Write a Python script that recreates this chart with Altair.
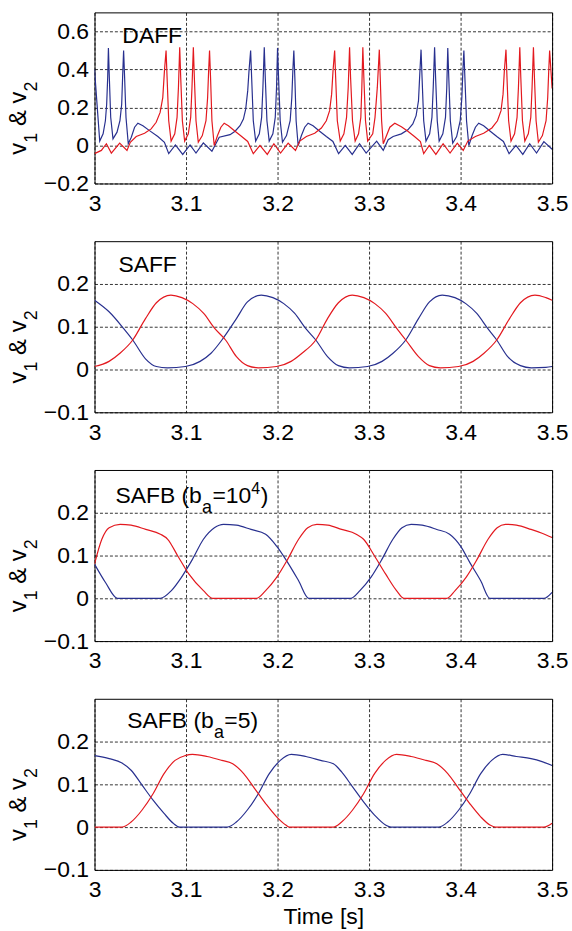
import altair as alt
import pandas as pd

FONT = "Liberation Sans"
BLUE = "#28308f"
RED = "#e3191f"

X_TICKS = [3.0, 3.1, 3.2, 3.3, 3.4, 3.5]
Y_TICKS_TOP = [-0.2, 0.0, 0.2, 0.4, 0.6]
Y_TICKS = [-0.1, 0.0, 0.1, 0.2]

# ---- Panel 1: DAFF (time [s], value) ----
daff_v1 = [
    (3.000, 0.40), (3.0057, 0.023), (3.0094, 0.061), (3.0119, 0.130), (3.0133, 0.217), (3.0144, 0.357),
    (3.0152, 0.513), (3.0162, 0.357), (3.0177, 0.148), (3.0202, 0.035), (3.0246, 0.070), (3.0278, 0.130),
    (3.0297, 0.217), (3.0307, 0.357), (3.0318, 0.499), (3.0329, 0.357), (3.0344, 0.148), (3.0369, 0.009),
    (3.0402, 0.043), (3.0438, 0.096), (3.0474, 0.117), (3.0529, 0.104), (3.0601, 0.078), (3.0692, 0.047),
    (3.0764, 0.017), (3.0811, -0.043), (3.0884, 0.003), (3.0964, -0.047), (3.1044, 0.003), (3.1109, -0.040),
    (3.1189, 0.014), (3.1283, -0.030), (3.1363, 0.043), (3.1481, 0.057), (3.1536, 0.075), (3.1590, 0.104),
    (3.1627, 0.139), (3.1652, 0.191), (3.1674, 0.287), (3.1688, 0.391), (3.1706, 0.499), (3.1717, 0.357),
    (3.1735, 0.130), (3.1761, 0.023), (3.1801, 0.061), (3.1826, 0.148), (3.1840, 0.304), (3.1855, 0.517),
    (3.1866, 0.357), (3.1884, 0.130), (3.1909, 0.023), (3.1949, 0.061), (3.1975, 0.148), (3.1989, 0.304),
    (3.2000, 0.513), (3.2011, 0.357), (3.2029, 0.130), (3.2054, 0.017), (3.2098, 0.052), (3.2138, 0.130),
    (3.2156, 0.252), (3.2167, 0.391), (3.2178, 0.499), (3.2189, 0.357), (3.2203, 0.130), (3.2225, 0.000),
    (3.2261, 0.052), (3.2297, 0.096), (3.2334, 0.117), (3.2388, 0.104), (3.2460, 0.075), (3.2533, 0.047),
    (3.2605, 0.021), (3.2667, -0.043), (3.2740, 0.000), (3.2816, -0.047), (3.2896, 0.009), (3.2968, -0.040),
    (3.3083, 0.023), (3.3155, -0.026), (3.3209, 0.030), (3.3263, 0.047), (3.3353, 0.061), (3.3424, 0.082),
    (3.3478, 0.113), (3.3514, 0.157), (3.3540, 0.235), (3.3554, 0.374), (3.3568, 0.504), (3.3579, 0.357),
    (3.3597, 0.130), (3.3622, 0.023), (3.3662, 0.061), (3.3687, 0.148), (3.3701, 0.304), (3.3716, 0.517),
    (3.3727, 0.357), (3.3745, 0.130), (3.3766, 0.023), (3.3806, 0.061), (3.3835, 0.148), (3.3849, 0.304),
    (3.3860, 0.513), (3.3871, 0.357), (3.3888, 0.130), (3.3914, 0.012), (3.3957, 0.047), (3.3996, 0.130),
    (3.4014, 0.252), (3.4025, 0.391), (3.4036, 0.499), (3.4047, 0.357), (3.4065, 0.130), (3.4090, 0.000),
    (3.4126, 0.052), (3.4162, 0.096), (3.4198, 0.117), (3.4252, 0.104), (3.4324, 0.075), (3.4396, 0.047),
    (3.4468, 0.021), (3.4530, -0.043), (3.4605, 0.000), (3.4680, -0.047), (3.4755, 0.009), (3.4830, -0.040),
    (3.4910, 0.020), (3.5000, -0.020),
]
daff_v2 = [
    (3.000, -0.043), (3.0075, -0.026), (3.0130, 0.009), (3.0184, -0.040), (3.0275, 0.012), (3.0355, -0.026),
    (3.0391, 0.017), (3.0456, 0.047), (3.0547, 0.064), (3.0619, 0.087), (3.0674, 0.122), (3.0717, 0.174),
    (3.0746, 0.252), (3.0764, 0.391), (3.0782, 0.499), (3.0793, 0.357), (3.0811, 0.130), (3.0837, 0.023),
    (3.0877, 0.061), (3.0902, 0.148), (3.0917, 0.304), (3.0931, 0.517), (3.0942, 0.357), (3.0960, 0.130),
    (3.0985, 0.023), (3.1025, 0.061), (3.1051, 0.148), (3.1065, 0.304), (3.1080, 0.517), (3.1091, 0.357),
    (3.1109, 0.130), (3.1134, 0.017), (3.1178, 0.052), (3.1218, 0.130), (3.1236, 0.252), (3.1247, 0.391),
    (3.1257, 0.499), (3.1268, 0.357), (3.1283, 0.130), (3.1308, 0.000), (3.1344, 0.052), (3.1381, 0.096),
    (3.1417, 0.117), (3.1463, 0.104), (3.1536, 0.075), (3.1608, 0.047), (3.1674, 0.021), (3.1735, -0.043),
    (3.1808, 0.000), (3.1888, -0.047), (3.1960, 0.009), (3.2033, -0.040), (3.2116, 0.012), (3.2196, -0.026),
    (3.2243, 0.023), (3.2315, 0.047), (3.2406, 0.064), (3.2479, 0.092), (3.2533, 0.130), (3.2569, 0.183),
    (3.2591, 0.270), (3.2606, 0.391), (3.2624, 0.499), (3.2635, 0.357), (3.2653, 0.130), (3.2685, 0.023),
    (3.2725, 0.061), (3.2754, 0.148), (3.2772, 0.304), (3.2787, 0.517), (3.2798, 0.357), (3.2819, 0.130),
    (3.2848, 0.023), (3.2885, 0.061), (3.2910, 0.148), (3.2921, 0.304), (3.2932, 0.517), (3.2943, 0.357),
    (3.2961, 0.130), (3.2985, 0.023), (3.3040, 0.061), (3.3065, 0.148), (3.3090, 0.304), (3.3112, 0.504),
    (3.3122, 0.357), (3.3137, 0.130), (3.3155, 0.009), (3.3191, 0.052), (3.3227, 0.096), (3.3281, 0.117),
    (3.3353, 0.099), (3.3424, 0.075), (3.3496, 0.047), (3.3561, 0.021), (3.3597, -0.043), (3.3658, 0.000),
    (3.3730, -0.047), (3.3809, 0.009), (3.3885, -0.040), (3.3964, 0.012), (3.4029, -0.026), (3.4079, 0.023),
    (3.4162, 0.047), (3.4252, 0.064), (3.4342, 0.092), (3.4403, 0.130), (3.4442, 0.183), (3.4464, 0.270),
    (3.4478, 0.391), (3.4496, 0.504), (3.4507, 0.357), (3.4525, 0.130), (3.4551, 0.023), (3.4590, 0.061),
    (3.4617, 0.148), (3.4632, 0.304), (3.4647, 0.517), (3.4658, 0.357), (3.4676, 0.130), (3.4702, 0.023),
    (3.4740, 0.061), (3.4767, 0.148), (3.4781, 0.304), (3.4796, 0.517), (3.4807, 0.357), (3.4825, 0.130),
    (3.4850, 0.017), (3.4894, 0.052), (3.4934, 0.130), (3.4952, 0.252), (3.4963, 0.391), (3.4973, 0.499),
    (3.5000, 0.300),
]

# ---- Panel 2: SAFF ----
saff_v1 = [
    (3.000, 0.162), (3.0159, 0.135), (3.0318, 0.096), (3.0418, 0.069), (3.0557, 0.025), (3.0676, 0.007),
    (3.0796, 0.004), (3.0994, 0.007), (3.1154, 0.019), (3.1273, 0.038), (3.1392, 0.069), (3.1551, 0.119),
    (3.1671, 0.158), (3.1822, 0.174), (3.1949, 0.168), (3.2068, 0.154), (3.2188, 0.131), (3.2307, 0.096),
    (3.2418, 0.069), (3.2546, 0.030), (3.2665, 0.009), (3.2784, 0.004), (3.2983, 0.007), (3.3142, 0.019),
    (3.3262, 0.038), (3.3401, 0.069), (3.3540, 0.119), (3.3660, 0.158), (3.3799, 0.174), (3.3938, 0.168),
    (3.4057, 0.154), (3.4177, 0.131), (3.4296, 0.096), (3.4395, 0.069), (3.4515, 0.030), (3.4654, 0.009),
    (3.4773, 0.004), (3.4932, 0.005), (3.5000, 0.007),
]
saff_v2 = [
    (3.000, 0.007), (3.0159, 0.019), (3.0278, 0.038), (3.0418, 0.069), (3.0557, 0.119), (3.0676, 0.156),
    (3.0835, 0.174), (3.0955, 0.168), (3.1074, 0.154), (3.1193, 0.131), (3.1313, 0.096), (3.1432, 0.069),
    (3.1551, 0.030), (3.1671, 0.009), (3.1790, 0.004), (3.1989, 0.007), (3.2148, 0.019), (3.2267, 0.038),
    (3.2418, 0.069), (3.2546, 0.119), (3.2665, 0.156), (3.2816, 0.174), (3.2943, 0.168), (3.3063, 0.154),
    (3.3182, 0.131), (3.3302, 0.096), (3.3401, 0.069), (3.3540, 0.030), (3.3660, 0.009), (3.3779, 0.004),
    (3.3978, 0.007), (3.4137, 0.019), (3.4256, 0.038), (3.4395, 0.069), (3.4535, 0.119), (3.4654, 0.156),
    (3.4813, 0.174), (3.4932, 0.168), (3.5000, 0.162),
]

# ---- Panel 3: SAFB (b_a = 10^4) ----
safb4_v1 = [
    (3.000, 0.080), (3.012, 0.037), (3.025, 0.000), (3.072, 0.000), (3.084, 0.018), (3.095, 0.049),
    (3.107, 0.091), (3.119, 0.138), (3.131, 0.165), (3.141, 0.173), (3.155, 0.171), (3.171, 0.161),
    (3.187, 0.150), (3.199, 0.122), (3.211, 0.084), (3.223, 0.041), (3.234, 0.000), (3.280, 0.000),
    (3.290, 0.018), (3.302, 0.049), (3.314, 0.091), (3.326, 0.138), (3.336, 0.165), (3.346, 0.173),
    (3.358, 0.171), (3.374, 0.161), (3.388, 0.150), (3.400, 0.122), (3.410, 0.084), (3.422, 0.041),
    (3.432, 0.000), (3.491, 0.000), (3.500, 0.014),
]
safb4_v2 = [
    (3.000, 0.080), (3.008, 0.138), (3.016, 0.165), (3.028, 0.173), (3.040, 0.171), (3.056, 0.161),
    (3.072, 0.150), (3.080, 0.138), (3.091, 0.099), (3.103, 0.057), (3.119, 0.018), (3.129, 0.000),
    (3.177, 0.000), (3.187, 0.018), (3.199, 0.049), (3.211, 0.091), (3.223, 0.138), (3.233, 0.165),
    (3.243, 0.173), (3.255, 0.171), (3.270, 0.161), (3.286, 0.150), (3.294, 0.138), (3.306, 0.099),
    (3.318, 0.057), (3.330, 0.018), (3.338, 0.000), (3.385, 0.000), (3.394, 0.018), (3.406, 0.049),
    (3.418, 0.091), (3.430, 0.138), (3.440, 0.165), (3.449, 0.173), (3.461, 0.171), (3.477, 0.161),
    (3.489, 0.152), (3.500, 0.142),
]

# ---- Panel 4: SAFB (b_a = 5) ----
safb5_v1 = [
    (3.000, 0.167), (3.016, 0.160), (3.030, 0.150), (3.040, 0.133), (3.052, 0.098), (3.064, 0.063),
    (3.076, 0.032), (3.086, 0.009), (3.093, 0.000), (3.145, 0.000), (3.155, 0.012), (3.167, 0.040),
    (3.179, 0.078), (3.191, 0.125), (3.203, 0.156), (3.215, 0.170), (3.231, 0.165), (3.247, 0.156),
    (3.261, 0.148), (3.270, 0.129), (3.282, 0.094), (3.294, 0.059), (3.306, 0.028), (3.318, 0.005),
    (3.324, 0.000), (3.376, 0.000), (3.386, 0.012), (3.398, 0.040), (3.410, 0.078), (3.422, 0.125),
    (3.434, 0.156), (3.446, 0.170), (3.461, 0.165), (3.477, 0.160), (3.489, 0.153), (3.500, 0.144),
]
safb5_v2 = [
    (3.000, 0.000), (3.030, 0.000), (3.040, 0.012), (3.052, 0.040), (3.064, 0.078), (3.076, 0.125),
    (3.088, 0.156), (3.099, 0.167), (3.107, 0.170), (3.123, 0.165), (3.139, 0.156), (3.151, 0.148),
    (3.163, 0.125), (3.175, 0.090), (3.187, 0.055), (3.199, 0.024), (3.209, 0.005), (3.213, 0.000),
    (3.261, 0.000), (3.270, 0.012), (3.282, 0.040), (3.294, 0.078), (3.306, 0.125), (3.318, 0.156),
    (3.330, 0.170), (3.346, 0.165), (3.362, 0.156), (3.374, 0.148), (3.386, 0.125), (3.398, 0.090),
    (3.410, 0.055), (3.422, 0.024), (3.432, 0.005), (3.438, 0.000), (3.491, 0.000), (3.500, 0.009),
]

W, H = 460, 172
ONE = pd.DataFrame({"k": [0]})


def frame(pairs):
    return pd.DataFrame(pairs, columns=["t", "v"])


def txt(s, x, y, size, angle=0):
    return alt.Chart(ONE).mark_text(
        text=s, font=FONT, fontSize=size, align="left", baseline="alphabetic",
        angle=angle, color="black"
    ).encode(x=alt.value(x), y=alt.value(y))


def ytitle():
    xb, xs, y0 = -69, -58, 143
    return [
        txt("v", xb, y0, 24, 270),
        txt("1", xs, y0 - 12, 18, 270),
        txt("& v", xb, y0 - 28.7, 24, 270),
        txt("2", xs, y0 - 63.4, 18, 270),
    ]


def panel(b, r, ydom, yticks, labels, last, interp):
    xenc = alt.X("t:Q", scale=alt.Scale(domain=[3, 3.5], nice=False, zero=False),
                 axis=alt.Axis(values=X_TICKS, format="~g", title="Time [s]" if last else None))
    yenc = alt.Y("v:Q", scale=alt.Scale(domain=ydom, nice=False, zero=False),
                 axis=alt.Axis(values=yticks, format="~g", title=None))
    lb = alt.Chart(frame(b)).mark_line(color=BLUE, strokeWidth=1.2, clip=True,
                                       interpolate=interp).encode(x=xenc, y=yenc)
    lr = alt.Chart(frame(r)).mark_line(color=RED, strokeWidth=1.2, clip=True,
                                       interpolate=interp).encode(x=xenc, y=yenc)
    return alt.layer(lb, lr, *labels, *ytitle()).properties(width=W, height=H)


p1 = panel(daff_v1, daff_v2, [-0.2, 0.7], Y_TICKS_TOP, [txt("DAFF", 28, 31, 23)], False, "linear")
p2 = panel(saff_v1, saff_v2, [-0.1, 0.3], Y_TICKS, [txt("SAFF", 24, 31, 23)], False, "monotone")
p3 = panel(safb4_v1, safb4_v2, [-0.1, 0.3], Y_TICKS, [
    txt("SAFB (b", 21, 33, 23), txt("a", 108, 43, 18), txt("=10", 118.5, 33, 23),
    txt("4", 157.5, 24, 16), txt(")", 167, 33, 23)], False, "monotone")
p4 = panel(safb5_v1, safb5_v2, [-0.1, 0.3], Y_TICKS, [
    txt("SAFB (b", 33, 29, 23), txt("a", 120, 39, 18), txt("=5)", 130.5, 29, 23)], True, "monotone")

chart = alt.vconcat(p1, p2, p3, p4, spacing=24).properties(
    padding={"left": 6, "top": 9, "right": 3, "bottom": 2},
    background="white",
).configure_view(
    stroke="black", strokeWidth=1
).configure_axis(
    grid=True, gridColor="black", gridDash=[3, 2], gridWidth=0.8, gridOpacity=1,
    domain=False, ticks=False, labelFont=FONT, labelFontSize=23, labelColor="black",
    labelFlush=False, labelOverlap=False,
    titleFont=FONT, titleFontSize=23, titleFontWeight="normal", titleColor="black",
).configure_axisX(labelPadding=9, titlePadding=4).configure_axisY(labelPadding=6)

chart.save("out.html", embed_options={"renderer": "svg", "actions": False})
